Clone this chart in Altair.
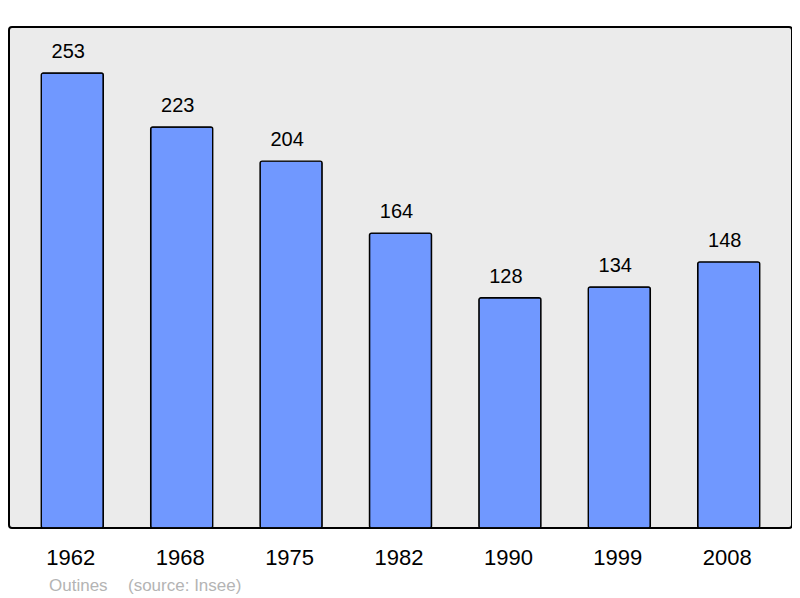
import altair as alt
import pandas as pd

years = ["1962", "1968", "1975", "1982", "1990", "1999", "2008"]
population = [253, 223, 204, 164, 128, 134, 148]
footer_left = "Outines"
footer_right = "(source: Insee)"

df = pd.DataFrame({"year": years, "pop": population})

FONT = "Liberation Sans"

x = alt.X("year:N", sort=years, title=None,
          scale=alt.Scale(paddingInner=0.433, paddingOuter=0.295),
          axis=alt.Axis(labelAngle=0, labelFontSize=22, labelFont=FONT, labelColor="#000000",
                        labelBaseline="alphabetic", labelPadding=36, labelOffset=-1.5,
                        ticks=False, domain=False))
y = alt.Y("pop:Q", title=None, scale=alt.Scale(domain=[0, 278.6], nice=False, zero=True),
          axis=None)

bars = alt.Chart(df).mark_bar(color="#7098ff", stroke="#000000", strokeWidth=1.4,
                              cornerRadius=2).encode(x=x, y=y)

labels = alt.Chart(df).mark_text(fontSize=20, font=FONT, color="#000000", baseline="alphabetic",
                                 dy=-15, dx=-4).encode(x=x, y=y, text="pop:Q")

foot_df = pd.DataFrame({"t": [footer_left]})
foot1 = alt.Chart(foot_df).mark_text(fontSize=17, font=FONT, color="#b4b4b4", align="left",
                                     baseline="alphabetic").encode(
    x=alt.value(40), y=alt.value(564), text="t:N")
foot_df2 = pd.DataFrame({"t": [footer_right]})
foot2 = alt.Chart(foot_df2).mark_text(fontSize=17, font=FONT, color="#b4b4b4", align="left",
                                      baseline="alphabetic").encode(
    x=alt.value(119), y=alt.value(564), text="t:N")

chart = alt.layer(bars, labels, foot1, foot2).properties(
    width=783, height=501,
    autosize=alt.AutoSizeParams(type="none"),
    padding={"left": 1, "top": 19, "right": 0, "bottom": 68},
    background="#ffffff",
).configure_view(
    fill="#ebebeb", stroke="#000000", strokeWidth=2, cornerRadius=3
)

chart.save("out.html", embed_options={"renderer": "svg", "actions": False})
